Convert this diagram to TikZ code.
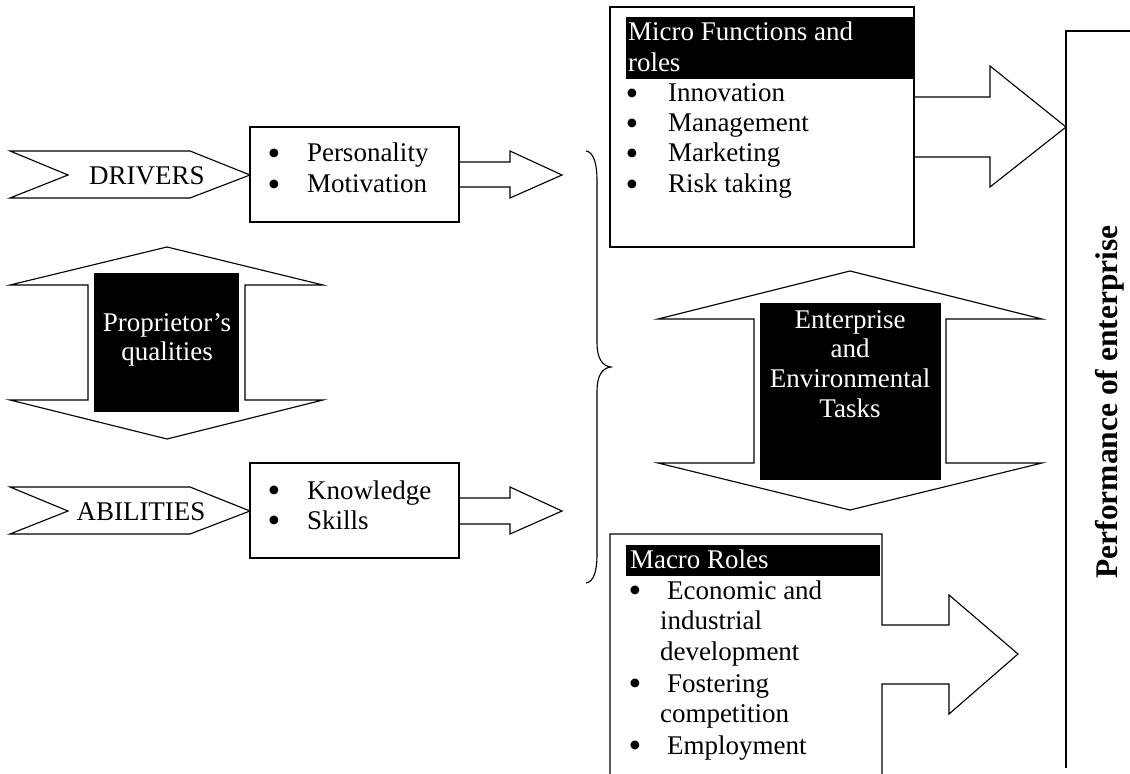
\documentclass[tikz,border=0pt]{standalone}
\usepackage{fontspec}
\setmainfont{Liberation Serif}
\newcommand{\bigbul}{\smash{\raisebox{-1.5pt}{\scalebox{1.35}{•}}}}
\begin{document}
\begin{tikzpicture}[x=0.44444pt,y=-0.44444pt,
  shape line/.style={draw=black,line width=0.5pt,line join=miter},
  txt/.style={inner sep=0pt,outer sep=0pt,font=\fontsize{12}{13.5}\selectfont},
  wtxt/.style={txt,text=white},
  bul/.style={txt,anchor=base},
  item/.style={txt,anchor=base west},
  label/.style={fill=black,draw=none}]
\useasboundingbox (0,0) rectangle (1130,774);
\fill[white] (0,0) rectangle (1130,774);

% ---------- DRIVERS row ----------
\draw[shape line] (10,151)--(190,151)--(250,175)--(190,198)--(10,198)--(68,175)--cycle;
\node[txt,anchor=base] (drivers) at (147,185) {DRIVERS};
\draw[shape line] (250,127) rectangle (459,222);
\node[bul] (b1) at (274,162) {\bigbul};
\node[item] (personality) at (307,162) {Personality};
\node[bul] (b2) at (274,193) {\bigbul};
\node[item] (motivation) at (307,193) {Motivation};
\draw[shape line] (459,162)--(510,162)--(510,151)--(562,175)--(510,198)--(510,187)--(459,187);

% ---------- Proprietor's qualities ----------
\draw[shape line] (167,247)--(323,285)--(245,285)--(245,400)--(323,400)--(167,439)--(10,400)--(88,400)--(88,285)--(10,285)--cycle;
\fill[label] (94,273) rectangle (239,412);
\node[wtxt,anchor=base] (prop1) at (167,332) {Proprietor’s};
\node[wtxt,anchor=base] (prop2) at (167,361) {qualities};

% ---------- ABILITIES row ----------
\draw[shape line] (10,487)--(190,487)--(250,511)--(190,534)--(10,534)--(68,511)--cycle;
\node[txt,anchor=base] (abilities) at (141,520) {ABILITIES};
\draw[shape line] (250,463) rectangle (459,558);
\node[bul] (b3) at (274,499) {\bigbul};
\node[item] (knowledge) at (307,499) {Knowledge};
\node[bul] (b4) at (274,529) {\bigbul};
\node[item] (skills) at (307,529) {Skills};
\draw[shape line] (459,498)--(510,498)--(510,487)--(562,511)--(510,534)--(510,524)--(459,524);

% ---------- brace ----------
\draw[shape line] (586,151) .. controls (594,152) and (597,165) .. (597,180) -- (597,343)
  .. controls (597,358) and (602,366) .. (611,367)
  .. controls (602,368) and (597,376) .. (597,391) -- (597,555)
  .. controls (597,570) and (594,582) .. (586,583);

% ---------- Micro functions ----------
\draw[shape line] (610,7) rectangle (914,247);
\fill[label] (626,17) rectangle (913,79);
\node[wtxt,anchor=base west] (micro1) at (628,41) {Micro Functions and};
\node[wtxt,anchor=base west] (micro2) at (628,72) {roles};
\node[bul] (b5) at (632,102) {\bigbul};
\node[item] (innovation) at (668,102) {Innovation};
\node[bul] (b6) at (632,132) {\bigbul};
\node[item] (management) at (668,132) {Management};
\node[bul] (b7) at (632,162) {\bigbul};
\node[item] (marketing) at (668,162) {Marketing};
\node[bul] (b8) at (632,193) {\bigbul};
\node[item] (risk) at (668,193) {Risk taking};
\draw[shape line] (914,97)--(990,97)--(990,66)--(1066,127)--(990,187)--(990,157)--(914,157);

% ---------- Enterprise and Environmental Tasks ----------
\draw[shape line] (850,271)--(1042,319)--(946,319)--(946,463)--(1042,463)--(850,510)--(658,463)--(754,463)--(754,319)--(658,319)--cycle;
\fill[label] (760,303) rectangle (941,480);
\node[wtxt,anchor=base] (ent1) at (850,329) {Enterprise};
\node[wtxt,anchor=base] (ent2) at (850,358) {and};
\node[wtxt,anchor=base] (ent3) at (850,388) {Environmental};
\node[wtxt,anchor=base] (ent4) at (850,418) {Tasks};

% ---------- Macro roles ----------
\draw[shape line] (610,776)--(610,534)--(882,534)--(882,625)--(949,625)--(949,595)--(1018,654)--(949,714)--(949,684)--(882,684)--(882,776);
\fill[label] (626,545) rectangle (880,576);
\node[wtxt,anchor=base west] (macro) at (630,568) {Macro Roles};
\node[bul] (b9) at (635,599) {\bigbul};
\node[item] (econ) at (667,599) {Economic and};
\node[item] (indus) at (660,629) {industrial};
\node[item] (devel) at (660,660) {development};
\node[bul] (b10) at (635,692) {\bigbul};
\node[item] (foster) at (667,692) {Fostering};
\node[item] (compet) at (660,722) {competition};
\node[bul] (b11) at (635,754) {\bigbul};
\node[item] (employ) at (667,754) {Employment};

% ---------- Performance ----------
\draw[shape line] (1066,768)--(1066,31)--(1132,31);
\node[inner sep=0pt,font=\fontsize{14}{16}\selectfont\bfseries,rotate=90,anchor=base] (perf) at (1117,402) {Performance of enterprise};
\end{tikzpicture}
\end{document}
